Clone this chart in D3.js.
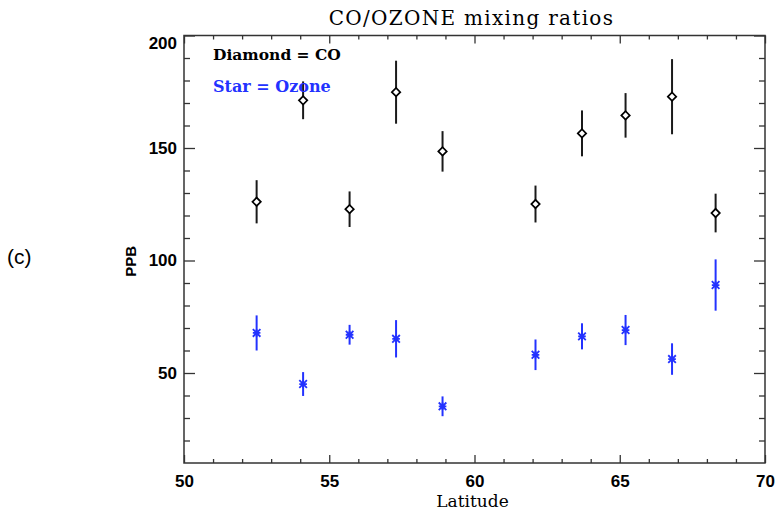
<!DOCTYPE html>
<html>
<head>
<meta charset="utf-8">
<script src="https://cdn.jsdelivr.net/npm/d3@7"></script>
<style>
  html, body { margin: 0; padding: 0; background: #fff; }
  svg { display: block; }
</style>
</head>
<body>
<svg id="chart" width="776" height="514"></svg>
<script>
// ---- data ----
const latitude = [52.5, 54.1, 55.7, 57.3, 58.9, 62.1, 63.7, 65.2, 66.8, 68.3];
const coValues = [126.1, 171.2, 122.8, 174.8, 148.5, 125.1, 156.5, 164.5, 172.8, 121.1];
const coErrors = [9.6, 8.4, 7.9, 14.0, 9.0, 8.2, 10.2, 9.9, 16.7, 8.6];
const ozoneValues = [67.8, 45.1, 67.0, 65.2, 35.2, 58.1, 66.3, 69.1, 56.2, 89.1];
const ozoneErrors = [7.8, 5.3, 4.4, 8.3, 4.4, 6.8, 5.8, 6.7, 7.0, 11.4];
const xTicks = [50, 55, 60, 65, 70];
const yTicks = [50, 100, 150, 200];
const xDomain = [50, 70];
const yDomain = [10, 200];
const titleText = "CO/OZONE mixing ratios";
const xLabel = "Latitude";
const yLabel = "PPB";
const legendCO = "Diamond = CO";
const legendOzone = "Star = Ozone";
const panelLabel = "(c)";

// ---- layout ----
const svg = d3.select("#chart");
const pLeft = 184, pRight = 765, pTop = 35.5, pBottom = 463;
const axisColor = "#333";
const blue = "rgb(35,50,255)";

const x = d3.scaleLinear().domain(xDomain).range([pLeft, pRight]);
const y = d3.scaleLinear().domain(yDomain).range([pBottom, pTop]);

const xMinor = d3.range(xDomain[0], xDomain[1] + 0.001, 1).filter(v => !xTicks.includes(v));
const yMinor = d3.range(yDomain[0] + 10, yDomain[1], 10).filter(v => !yTicks.includes(v));

function styleAxis(g) {
  g.select(".domain").remove();
  g.selectAll(".tick line").attr("stroke", axisColor).attr("stroke-width", 1.3);
  g.selectAll("text").attr("fill", "#000")
    .style("font-family", "'Liberation Sans', Arial, sans-serif")
    .style("font-weight", "bold").style("font-size", "17px");
}

// bottom axis
svg.append("g").attr("transform", `translate(0,${pBottom})`)
  .call(d3.axisBottom(x).tickValues(xTicks).tickSize(-8).tickPadding(12).tickFormat(d3.format("d")))
  .call(styleAxis);
svg.append("g").attr("transform", `translate(0,${pBottom})`)
  .call(d3.axisBottom(x).tickValues(xMinor).tickSize(-4).tickFormat(""))
  .call(styleAxis);
// top axis
svg.append("g").attr("transform", `translate(0,${pTop})`)
  .call(d3.axisTop(x).tickValues(xTicks).tickSize(-8).tickFormat(""))
  .call(styleAxis);
svg.append("g").attr("transform", `translate(0,${pTop})`)
  .call(d3.axisTop(x).tickValues(xMinor).tickSize(-4).tickFormat(""))
  .call(styleAxis);
// left axis
const gl = svg.append("g").attr("transform", `translate(${pLeft},0)`)
  .call(d3.axisLeft(y).tickValues(yTicks).tickSize(-11).tickPadding(7).tickFormat(d3.format("d")))
  .call(styleAxis);
gl.selectAll(".tick text").filter(d => d === yDomain[1]).attr("dy", "0.75em");
svg.append("g").attr("transform", `translate(${pLeft},0)`)
  .call(d3.axisLeft(y).tickValues(yMinor).tickSize(-6).tickFormat(""))
  .call(styleAxis);
// right axis
svg.append("g").attr("transform", `translate(${pRight},0)`)
  .call(d3.axisRight(y).tickValues(yTicks).tickSize(-11).tickFormat(""))
  .call(styleAxis);
svg.append("g").attr("transform", `translate(${pRight},0)`)
  .call(d3.axisRight(y).tickValues(yMinor).tickSize(-6).tickFormat(""))
  .call(styleAxis);

// frame
svg.append("rect").attr("x", pLeft).attr("y", pTop)
  .attr("width", pRight - pLeft).attr("height", pBottom - pTop)
  .attr("fill", "none").attr("stroke", axisColor).attr("stroke-width", 1.5);

// ---- series ----
const co = latitude.map((lat, i) => ({ lat, v: coValues[i], e: coErrors[i] }));
const oz = latitude.map((lat, i) => ({ lat, v: ozoneValues[i], e: ozoneErrors[i] }));

svg.append("g").selectAll("line").data(co).join("line")
  .attr("x1", d => x(d.lat)).attr("x2", d => x(d.lat))
  .attr("y1", d => y(d.v - d.e)).attr("y2", d => y(d.v + d.e))
  .attr("stroke", "#1a1a1a").attr("stroke-width", 2);

const ds = 4.2;
svg.append("g").selectAll("path").data(co).join("path")
  .attr("d", d => {
    const cx = x(d.lat), cy = y(d.v);
    return `M${cx - ds},${cy}L${cx},${cy - ds}L${cx + ds},${cy}L${cx},${cy + ds}Z`;
  })
  .attr("fill", "#fff").attr("stroke", "#000").attr("stroke-width", 1.7);

svg.append("g").selectAll("line").data(oz).join("line")
  .attr("x1", d => x(d.lat)).attr("x2", d => x(d.lat))
  .attr("y1", d => y(d.v - d.e)).attr("y2", d => y(d.v + d.e))
  .attr("stroke", blue).attr("stroke-width", 2);

const ss = 3.8;
svg.append("g").selectAll("path").data(oz).join("path")
  .attr("d", d => {
    const cx = x(d.lat), cy = y(d.v);
    return `M${cx - ss},${cy}L${cx + ss},${cy}` +
           `M${cx},${cy - ss}L${cx},${cy + ss}` +
           `M${cx - ss},${cy - ss}L${cx + ss},${cy + ss}` +
           `M${cx - ss},${cy + ss}L${cx + ss},${cy - ss}`;
  })
  .attr("stroke", blue).attr("stroke-width", 1.8).attr("fill", "none");

// ---- texts ----
svg.append("text").attr("x", (pLeft + pRight) / 2 - 3).attr("y", 25)
  .attr("text-anchor", "middle")
  .style("font-family", "'DejaVu Serif', serif").style("font-size", "20px")
  .style("letter-spacing", "1.3px")
  .attr("fill", "#000").text(titleText);

svg.append("text").attr("x", (pLeft + pRight) / 2 - 2).attr("y", 507)
  .attr("text-anchor", "middle")
  .style("font-family", "'DejaVu Serif', serif").style("font-size", "17px")
  .attr("fill", "#000").text(xLabel);

svg.append("text").attr("transform", `translate(136,${(pTop + pBottom) / 2 + 12}) rotate(-90)`)
  .attr("text-anchor", "middle")
  .style("font-family", "'Liberation Sans', Arial, sans-serif").style("font-weight", "bold").style("font-size", "15px")
  .attr("fill", "#000").text(yLabel);

svg.append("text").attr("x", 213).attr("y", 60)
  .style("font-family", "'DejaVu Serif', serif").style("font-weight", "bold").style("font-size", "15.5px")
  .attr("fill", "#000").text(legendCO);

svg.append("text").attr("x", 213).attr("y", 92)
  .style("font-family", "'DejaVu Serif', serif").style("font-weight", "bold").style("font-size", "16px")
  .attr("fill", blue).text(legendOzone);

svg.append("text").attr("x", 7).attr("y", 264)
  .style("font-family", "'Liberation Sans', Arial, sans-serif").style("font-size", "21px")
  .attr("fill", "#000").text(panelLabel);
</script>
</body>
</html>
